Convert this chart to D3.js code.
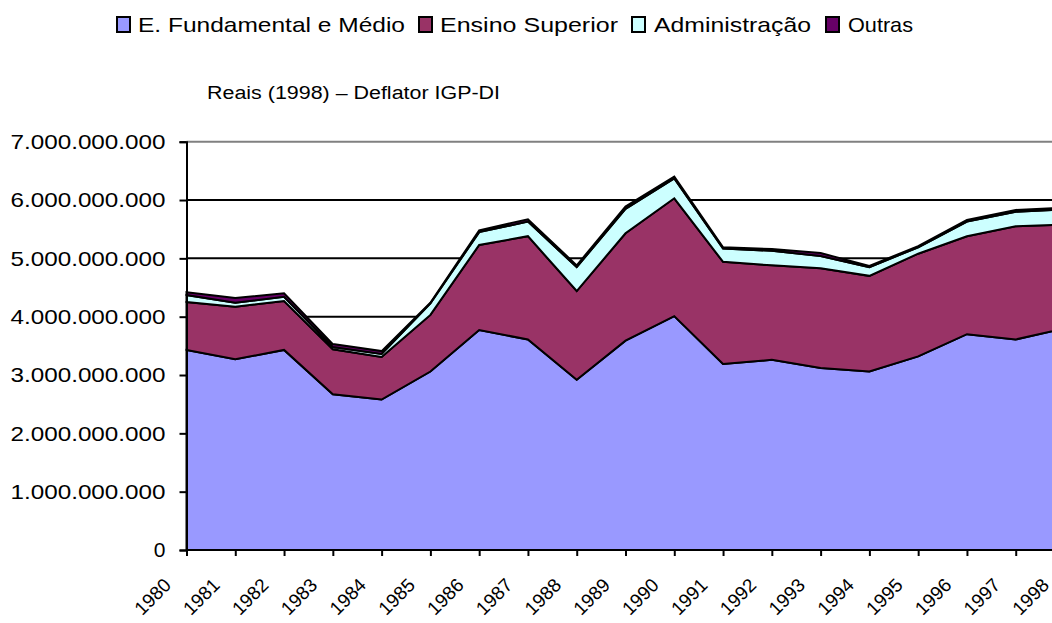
<!DOCTYPE html>
<html>
<head>
<meta charset="utf-8">
<script src="https://cdn.jsdelivr.net/npm/d3@7"></script>
<style>
  body { margin: 0; background: #fff; }
  svg { display: block; font-family: "Liberation Sans", Arial, sans-serif; }
</style>
</head>
<body>
<div id="chart"></div>
<script>
// data (R$ of 1998, billions)
var years = ["1980","1981","1982","1983","1984","1985","1986","1987","1988","1989",
             "1990","1991","1992","1993","1994","1995","1996","1997","1998"];
var fundamental = [3.43,3.27,3.43,2.67,2.58,3.06,3.77,3.61,2.92,3.59,4.01,3.19,3.26,3.12,3.06,3.32,3.70,3.61,3.80];
var superior    = [0.82,0.90,0.84,0.77,0.73,0.97,1.46,1.77,1.52,1.84,2.02,1.75,1.62,1.71,1.64,1.76,1.68,1.94,1.78];
var administracao = [0.12,0.07,0.07,0.04,0.05,0.20,0.22,0.25,0.41,0.42,0.34,0.23,0.25,0.21,0.15,0.11,0.25,0.25,0.26];
var outras      = [0.05,0.08,0.06,0.05,0.05,0.01,0.03,0.04,0.03,0.04,0.03,0.02,0.03,0.05,0.02,0.02,0.03,0.03,0.03];
var seriesNames = ["E. Fundamental e Médio", "Ensino Superior", "Administração", "Outras"];
var colors = ["#9999ff", "#993366", "#ccffff", "#660066"];
var yTicks = [0,1,2,3,4,5,6,7];

var width = 1052, height = 623;
var svg = d3.select("#chart").append("svg")
    .attr("width", width).attr("height", height);

var x = d3.scalePoint().domain(years).range([186.5, 1064.5]);
var y = d3.scaleLinear().domain([0, 7]).range([550, 141.7]);

var rows = years.map(function(yr, i) {
  return {year: yr, s0: fundamental[i], s1: superior[i], s2: administracao[i], s3: outras[i]};
});
var stacked = d3.stack().keys(["s0","s1","s2","s3"])(rows);

// gridlines
svg.append("g").selectAll("line")
  .data(yTicks.slice(1))
  .enter().append("line")
  .attr("x1", 186.5).attr("x2", width)
  .attr("y1", function(d){ return y(d); })
  .attr("y2", function(d){ return y(d); })
  .attr("stroke", function(d){ return d == 7 ? "#808080" : "#000"; })
  .attr("stroke-width", 2);

// areas
var area = d3.area()
  .x(function(d){ return x(d.data.year); })
  .y0(function(d){ return y(d[0]); })
  .y1(function(d){ return y(d[1]); });

svg.append("g").selectAll("path")
  .data(stacked)
  .enter().append("path")
  .attr("d", area)
  .attr("fill", function(d,i){ return colors[i]; })
  .attr("stroke", "#000")
  .attr("stroke-width", 2)
  .attr("stroke-linejoin", "miter");

// y axis
var yAxis = svg.append("g")
  .attr("transform", "translate(186.5,0)")
  .call(d3.axisLeft(y).tickValues(yTicks).tickSize(7).tickPadding(14)
    .tickFormat(function(d){ return d == 0 ? "0" : d + ".000.000.000"; }));
yAxis.select(".domain").attr("stroke-width", 2);
yAxis.selectAll(".tick line").attr("stroke-width", 2);
yAxis.selectAll("text")
  .attr("font-size", "21px")
  .attr("font-family", "Liberation Sans, Arial, sans-serif")
  .attr("fill", "#000")
  .each(function(d){
    if (d != 0) d3.select(this).attr("textLength", 155).attr("lengthAdjust", "spacingAndGlyphs");
  });

// x axis
var xAxis = svg.append("g")
  .attr("transform", "translate(0,550)")
  .call(d3.axisBottom(x).tickSize(6).tickPadding(0));
xAxis.select(".domain").attr("stroke-width", 2).attr("d", "M186.5,0H" + width);
xAxis.selectAll(".tick line").attr("stroke-width", 2);
xAxis.selectAll("text")
  .attr("font-size", "19px")
  .attr("font-family", "Liberation Sans, Arial, sans-serif")
  .attr("fill", "#000")
  .attr("text-anchor", "end")
  .attr("transform", "translate(-19,32) rotate(-45)")
  .attr("dy", "0");

// legend
var legendPos = [{sq: 117, tx: 138, len: 267}, {sq: 419, tx: 440, len: 178},
                 {sq: 632, tx: 654, len: 157}, {sq: 826, tx: 848, len: 65}];
var legend = svg.append("g");
seriesNames.forEach(function(name, i) {
  legend.append("rect")
    .attr("x", legendPos[i].sq).attr("y", 17)
    .attr("width", 13).attr("height", 15)
    .attr("fill", colors[i]).attr("stroke", "#000").attr("stroke-width", 2);
  legend.append("text")
    .attr("x", legendPos[i].tx).attr("y", 32)
    .attr("font-size", "21px")
    .attr("textLength", legendPos[i].len).attr("lengthAdjust", "spacingAndGlyphs")
    .text(name);
});

// subtitle
svg.append("text")
  .attr("x", 207).attr("y", 99)
  .attr("font-size", "18px")
  .attr("textLength", 293).attr("lengthAdjust", "spacingAndGlyphs")
  .text("Reais (1998) – Deflator IGP-DI");
</script>
</body>
</html>
